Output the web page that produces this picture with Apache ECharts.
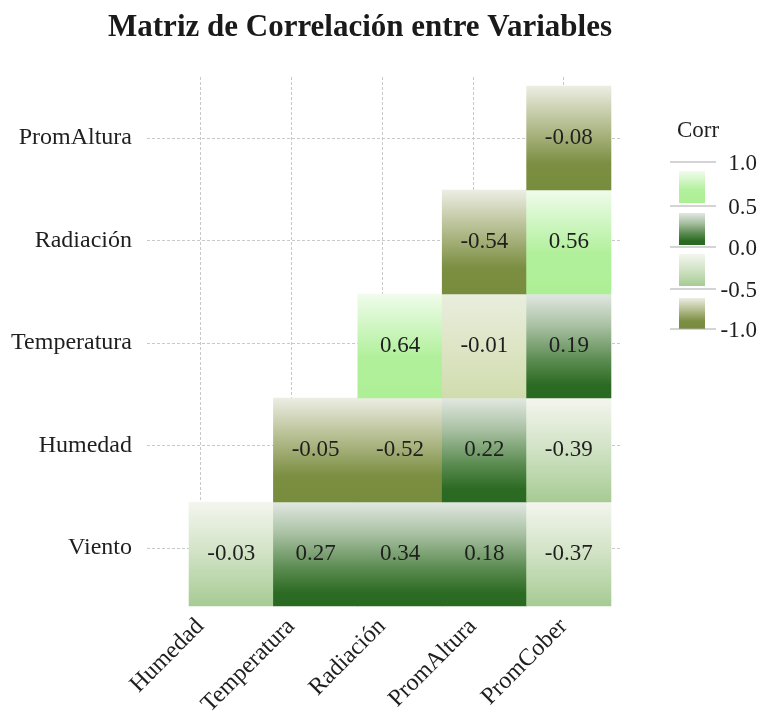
<!DOCTYPE html>
<html>
<head>
<meta charset="utf-8">
<script src="https://cdn.jsdelivr.net/npm/echarts@6/dist/echarts.min.js"></script>
<style>
  html, body { margin: 0; padding: 0; background: #ffffff; }
  #chart { width: 762px; height: 719px; }
</style>
</head>
<body>
<div id="chart"></div>
<script>
// ---------- data ----------
const titleText = 'Matriz de Correlación entre Variables';
const columns = ['Humedad', 'Temperatura', 'Radiación', 'PromAltura', 'PromCober'];
const rows = ['Viento', 'Humedad', 'Temperatura', 'Radiación', 'PromAltura']; // bottom -> top
const corrViento      = [-0.03, 0.27, 0.34, 0.18, -0.37];
const corrHumedad     = [null, -0.05, -0.52, 0.22, -0.39];
const corrTemperatura = [null, null, 0.64, -0.01, 0.19];
const corrRadiacion   = [null, null, null, -0.54, 0.56];
const corrPromAltura  = [null, null, null, null, -0.08];
const legendTitle = 'Corr';
const legendTicks = ['1.0', '0.5', '0.0', '-0.5', '-1.0'];

// ---------- styles (kept apart from data) ----------
const palettes = {
  bright: [[0, '#f0fcec'], [0.6, '#b2f09c'], [1, '#adef95']],
  dark:   [[0, '#e2e8e2'], [0.3, '#aac2a4'], [0.65, '#58894e'], [0.88, '#2b6a22'], [1, '#2a6921']],
  pale:   [[0, '#f4f6ef'], [0.5, '#d0e2c4'], [1, '#a6cb93']],
  olive:  [[0, '#eceee4'], [0.35, '#b9c196'], [0.75, '#7b8e41'], [1, '#788c3e']],
  khaki:  [[0, '#e9eede'], [1, '#d1dcad']]
};
const cellFill = {
  'PromAltura|PromCober': 'olive',
  'Radiación|PromAltura': 'olive',
  'Radiación|PromCober': 'bright',
  'Temperatura|Radiación': 'bright',
  'Temperatura|PromAltura': 'khaki',
  'Temperatura|PromCober': 'dark',
  'Humedad|Temperatura': 'olive',
  'Humedad|Radiación': 'olive',
  'Humedad|PromAltura': 'dark',
  'Humedad|PromCober': 'pale',
  'Viento|Humedad': 'pale',
  'Viento|Temperatura': 'dark',
  'Viento|Radiación': 'dark',
  'Viento|PromAltura': 'dark',
  'Viento|PromCober': 'pale'
};
const legendFills = ['bright', 'dark', 'pale', 'olive'];

function grad(name) {
  return new echarts.graphic.LinearGradient(0, 0, 0, 1,
    palettes[name].map(s => ({ offset: s[0], color: s[1] })));
}

// ---------- build series data ----------
const rowValues = [corrViento, corrHumedad, corrTemperatura, corrRadiacion, corrPromAltura];
const cells = [];
rowValues.forEach((vals, ri) => {
  vals.forEach((v, ci) => {
    if (v !== null) cells.push([ci, ri, v]);
  });
});

const FONT = '"Liberation Serif", "Times New Roman", serif';
const TEXT = '#1f1f1f';
const gridLine = { show: true, lineStyle: { color: '#c9c9c9', width: 1, type: [3, 2] } };

const chart = echarts.init(document.getElementById('chart'), null, { renderer: 'canvas' });

// legend graphics
const legendGraphics = [];
legendGraphics.push({
  type: 'text', left: 677, top: 119,
  style: { text: legendTitle, font: '23px ' + FONT, fill: TEXT }
});
const lineYs = [162, 206, 247, 289, 329];
lineYs.forEach((y, i) => {
  legendGraphics.push({
    type: 'line', shape: { x1: 670, y1: y, x2: 716, y2: y },
    style: { stroke: '#aaaaaa', lineWidth: 1.2 }, z: 5
  });
  legendGraphics.push({
    type: 'text', x: 757, y: y + 2,
    style: { text: legendTicks[i], font: '23px ' + FONT, fill: TEXT, align: 'right', verticalAlign: 'middle' }
  });
});
const swatchY = [[171, 203], [213, 245], [254, 286], [298, 329]];
swatchY.forEach((r, i) => {
  legendGraphics.push({
    type: 'rect', shape: { x: 679, y: r[0], width: 26, height: r[1] - r[0] },
    style: { fill: grad(legendFills[i]) }, z: 4
  });
});

const option = {
  backgroundColor: '#ffffff',
  animation: false,
  textStyle: { fontFamily: FONT },
  graphic: [
    {
      type: 'text', x: 360, y: 28,
      style: { text: titleText, font: 'bold 31px ' + FONT, fill: '#1a1a1a', align: 'center', verticalAlign: 'middle' }
    }
  ].concat(legendGraphics),
  grid: [
    { left: 200.3, right: 198.3, top: 77, bottom: 113 },   // x labels & vertical grid lines
    { left: 147, right: 140, top: 138, bottom: 171 },      // y labels & horizontal grid lines
    { left: 189, right: 151, top: 86, bottom: 113 }        // cells
  ],
  xAxis: [
    {
      gridIndex: 0, type: 'category', data: columns, boundaryGap: false,
      axisLine: { show: false }, axisTick: { show: false },
      axisLabel: { rotate: 45, margin: 25, fontSize: 24, fontFamily: FONT, color: TEXT },
      splitLine: gridLine
    },
    { gridIndex: 1, type: 'value', show: false },
    { gridIndex: 2, type: 'category', data: columns, show: false }
  ],
  yAxis: [
    { gridIndex: 0, type: 'value', show: false },
    {
      gridIndex: 1, type: 'category', data: rows, boundaryGap: false,
      axisLine: { show: false }, axisTick: { show: false },
      axisLabel: { margin: 15, fontSize: 24, fontFamily: FONT, color: TEXT },
      splitLine: gridLine
    },
    { gridIndex: 2, type: 'category', data: rows, show: false }
  ],
  series: [{
    type: 'custom',
    xAxisIndex: 2, yAxisIndex: 2,
    data: cells,
    z: 10,
    renderItem: function (params, api) {
      const ci = api.value(0), ri = api.value(1), v = api.value(2);
      const c = api.coord([ci, ri]);
      const s = api.size([1, 1]);
      const key = rows[ri] + '|' + columns[ci];
      return {
        type: 'group',
        children: [
          {
            type: 'rect',
            shape: { x: c[0] - s[0] / 2 - 0.3, y: c[1] - s[1] / 2 - 0.3, width: s[0] + 0.6, height: s[1] + 0.6 },
            style: { fill: grad(cellFill[key]) }
          },
          {
            type: 'text', x: c[0], y: c[1],
            style: { text: v.toFixed(2), font: '23px ' + FONT, fill: TEXT, align: 'center', verticalAlign: 'middle' }
          }
        ]
      };
    }
  }]
};
chart.setOption(option);
</script>
</body>
</html>
